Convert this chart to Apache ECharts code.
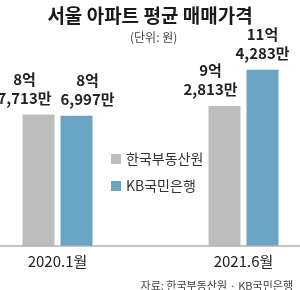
<!DOCTYPE html>
<html><head><meta charset="utf-8">
<script src="https://cdn.jsdelivr.net/npm/echarts@6/dist/echarts.min.js"></script>
<style>html,body{margin:0;padding:0;background:#fff}#c{width:300px;height:290px}</style>
</head><body><div id="c"></div>
<script>
var categories = ['2020.1월', '2021.6월'];
var seriesNames = ['한국부동산원', 'KB국민은행'];
// 단위: 만원
var rebValues = [87713, 92813];
var kbValues = [86997, 114283];

var FONT = '"Noto Sans CJK KR", "Noto Sans", sans-serif';
function fmt(p) {
  var v = p.value;
  var eok = Math.floor(v / 10000);
  var man = v % 10000;
  return eok + '억\n' + man.toLocaleString('en-US') + '만';
}
var labelBase = {show: true, position: 'top', distance: 7, formatter: fmt,
  fontFamily: FONT, fontSize: 15, fontWeight: 'bold', color: '#222', lineHeight: 19};

var chart = echarts.init(document.getElementById('c'), null, {renderer: 'canvas'});
var offsetsA = [-14, -14], offsetsB = [11, 0];
chart.setOption({
  animation: false,
  title: [
    {text: '서울 아파트 평균 매매가격', left: 'center', top: 1,
     textStyle: {fontFamily: FONT, fontSize: 19, fontWeight: 'bold', color: '#1a1a1a'}},
    {text: '(단위: 원)', left: 125, top: 26,
     textStyle: {fontFamily: FONT, fontSize: 12, fontWeight: 'normal', color: '#444'}},
    {text: '자료: 한국부동산원 · KB국민은행', right: 2, top: 275,
     textStyle: {fontFamily: FONT, fontSize: 11, fontWeight: 'normal', color: '#444'}}
  ],
  legend: {orient: 'vertical', left: 106, top: 147, itemWidth: 10, itemHeight: 10, itemGap: 13,
    icon: 'rect', data: seriesNames,
    textStyle: {fontFamily: FONT, fontSize: 14, color: '#333'}},
  grid: {left: -35.5, right: -36.5, top: 60, bottom: 44, outerBoundsMode: 'none', containLabel: false},
  xAxis: {type: 'category', data: categories, boundaryGap: true,
    axisLine: {show: false}, axisTick: {show: false},
    axisLabel: {margin: 8, fontFamily: FONT, fontSize: 15, color: '#222'}},
  yAxis: {type: 'value', min: 10000, max: 120000, show: false, splitLine: {show: false}},
  series: [
    {name: seriesNames[0], type: 'bar', clip: true, barWidth: 32, barGap: '18.75%',
     itemStyle: {color: '#bdbdbd'},
     data: rebValues.map(function (v, i) { return {value: v, label: {offset: [offsetsA[i], 0]}}; }),
     label: labelBase},
    {name: seriesNames[1], type: 'bar', clip: true, barWidth: 32,
     itemStyle: {color: '#68a5c4'},
     data: kbValues.map(function (v, i) { return {value: v, label: {offset: [offsetsB[i], 0]}}; }),
     label: labelBase}
  ]
});
var y0 = chart.convertToPixel({yAxisIndex: 0}, 10000);
chart.setOption({graphic: [{type: 'line', shape: {x1: 0, y1: y0, x2: 300, y2: y0},
  style: {stroke: '#b0b0b0', lineWidth: 1.5}, z: 10}]});
</script></body></html>
